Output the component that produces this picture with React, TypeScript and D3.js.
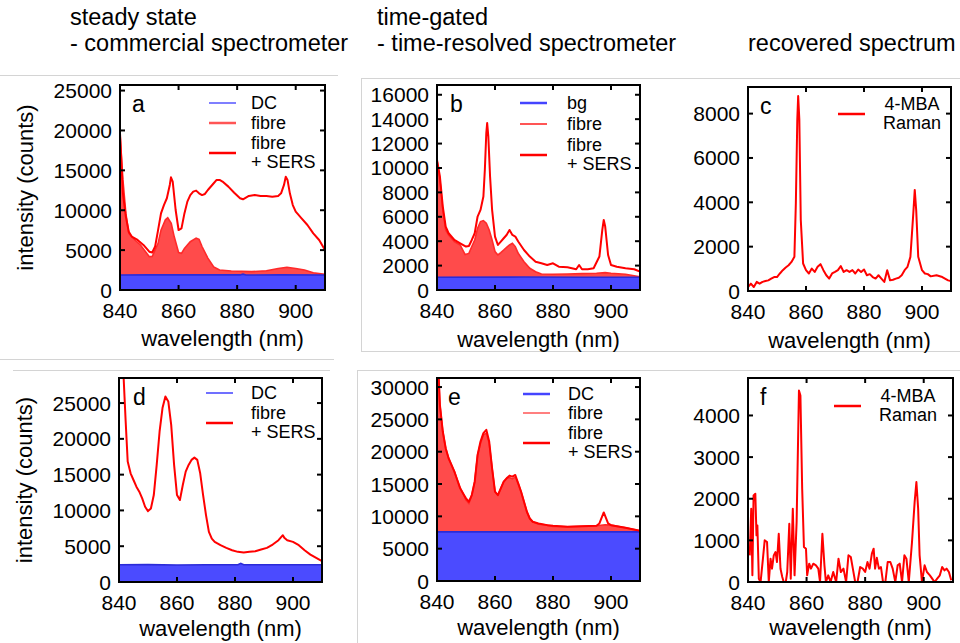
import React from 'react';
import * as d3 from 'd3';

type Pt = [number, number];

// ---------- data (wavelength nm, counts) ----------
const xTicks = [840, 860, 880, 900];

// a : steady state, commercial spectrometer
const aDC: Pt[] = [[840, 1880], [850, 1900], [860, 1890], [870, 1900], [881, 1890], [882, 1990], [883, 1880], [895, 1900], [910, 1880]];
const aFibre: Pt[] = [[840, 19650], [841, 13800], [842, 9600], [843, 7100], [845, 6300], [847, 5650], [850, 4180], [851, 4200], [853, 5850], [854, 7500], [855.5, 8800], [856.3, 9050], [857.5, 8350], [858.5, 6700], [860, 4700], [861, 4600], [862, 5200], [864, 6050], [866, 6500], [867, 6350], [868, 5450], [870, 4000], [872, 2900], [874, 2500], [878, 2380], [885, 2300], [890, 2420], [894, 2700], [897, 2850], [900, 2700], [903, 2500], [906, 2170], [910, 1960]];
const aSers: Pt[] = [[840, 19650], [840.5, 15900], [841, 12100], [842, 9200], [843, 7300], [844, 6700], [846, 6270], [848, 5650], [850, 4800], [851, 4700], [852, 5450], [853, 7500], [854, 9600], [855, 10650], [856, 11500], [857, 13170], [857.4, 14130], [858, 13590], [859, 10030], [860, 7520], [861, 7730], [862, 9600], [863, 11080], [864, 11900], [865, 12330], [866, 12460], [867, 12120], [868, 11900], [869, 12040], [870, 12540], [872, 13380], [873, 13800], [874, 13800], [875, 13590], [877, 12960], [879, 12200], [881, 11500], [882, 11370], [884, 11790], [886, 11900], [888, 11790], [890, 11790], [892, 11700], [894, 11790], [895, 12120], [896, 13170], [896.6, 14210], [897.2, 13800], [898, 12120], [899, 10650], [900, 9820], [902, 8990], [904, 8150], [906, 7100], [908, 6270], [910, 5020]];

// b : time-gated, time-resolved spectrometer
const bBg: Pt[] = [[840, 1050], [870, 1060], [890, 1050], [910, 1050]];
const bFibre: Pt[] = [[840, 10670], [841, 9030], [842, 6560], [843, 4920], [844, 4510], [846, 3970], [848, 3690], [849.7, 2900], [851, 3000], [852, 3560], [853, 4100], [854, 5060], [855, 5610], [856, 5690], [857, 5470], [858, 4920], [859, 4100], [860, 3150], [861, 2870], [862, 3060], [863, 3280], [864, 3500], [865, 3690], [866, 3830], [867, 3560], [868, 3010], [870, 2320], [872, 1780], [874, 1500], [876, 1310], [880, 1290], [885, 1310], [890, 1340], [895, 1370], [898, 1420], [900, 1370], [905, 1290], [910, 1090]];
const bSers: Pt[] = [[840, 10670], [841, 9300], [842, 6840], [843, 5200], [844, 4650], [846, 4100], [848, 3830], [850, 3560], [851, 3610], [852, 4100], [853, 4650], [854, 6020], [855, 6560], [856, 7660], [856.5, 9850], [857, 12860], [857.3, 13680], [857.7, 12580], [858.3, 9300], [859, 6560], [860, 4380], [861, 3690], [862, 3970], [863, 4240], [864, 4510], [865, 4920], [866, 4510], [867, 4380], [868, 3970], [870, 3280], [872, 2740], [874, 2320], [876, 2190], [878, 2050], [880, 2190], [882, 1910], [885, 1860], [888, 1700], [889, 2050], [890, 1700], [892, 1700], [894, 1780], [896, 2740], [897, 4920], [897.5, 5740], [898, 5200], [899, 2870], [900, 2050], [902, 1910], [905, 1780], [908, 1700], [910, 1500]];

// c : recovered spectrum (time-gated)
const cRaman: Pt[] = [[840, 180], [841, 330], [842, 180], [843, 410], [844, 330], [845, 410], [846, 450], [847, 480], [848, 560], [849, 630], [850, 630], [851, 790], [852, 940], [853, 1060], [854, 1160], [855, 1310], [856, 1540], [856.5, 3960], [857, 7730], [857.3, 8790], [857.7, 7730], [858.2, 3200], [859, 1240], [860, 940], [861, 790], [862, 1010], [863, 860], [864, 1090], [865, 1210], [866, 940], [867, 710], [868, 560], [869, 790], [870, 860], [871, 940], [872, 1120], [873, 860], [874, 940], [875, 860], [876, 940], [877, 790], [878, 970], [879, 860], [880, 970], [881, 710], [882, 760], [883, 630], [884, 560], [885, 710], [886, 560], [887, 410], [888, 940], [889, 480], [890, 510], [891, 560], [892, 600], [893, 710], [894, 940], [895, 1090], [896, 1540], [897, 3500], [897.5, 4560], [898, 3650], [898.7, 1540], [900, 940], [901, 790], [902, 760], [903, 660], [905, 710], [907, 630], [909, 480], [910, 450]];

// d : steady state, second fibre
const dDC: Pt[] = [[840, 2400], [850, 2430], [860, 2380], [870, 2420], [881, 2400], [882, 2600], [883, 2400], [895, 2420], [910, 2400]];
const dSers: Pt[] = [[840, 40000], [841.6, 28500], [842.3, 22430], [843, 16820], [844, 15190], [845, 14250], [846, 13320], [847, 12620], [848, 11680], [849, 10510], [850, 9900], [851, 10280], [852, 12150], [853, 16360], [854, 21030], [855, 24300], [856, 25930], [857, 25230], [858, 21960], [859, 16360], [860, 12150], [861, 11450], [862, 13550], [863, 15420], [864, 16360], [865, 17060], [866, 17380], [867, 17060], [868, 15190], [869, 12150], [870, 9350], [871, 7010], [872, 6070], [873, 5610], [875, 5140], [877, 4770], [879, 4440], [881, 4210], [883, 4110], [885, 4210], [887, 4300], [889, 4530], [891, 4770], [893, 5230], [895, 5840], [896.5, 6540], [897, 6170], [898, 5840], [900, 5610], [902, 5140], [904, 4440], [906, 3830], [908, 3360], [910, 2900]];

// e : time-gated, second fibre
const eDC: Pt[] = [[840, 7600], [910, 7600]];
const eFibre: Pt[] = [[840, 36000], [840.6, 31400], [841, 27260], [842, 23120], [843, 20540], [844, 18990], [845, 17950], [846, 16920], [847, 15620], [848, 14330], [849, 13550], [850, 12500], [851, 12000], [852, 13290], [853, 15360], [854, 19500], [855, 21300], [856, 22600], [857, 22870], [858, 21300], [859, 17430], [860, 13810], [861, 13290], [862, 14330], [863, 15360], [864, 15880], [865, 16000], [866, 15800], [867, 16100], [868, 15100], [869, 13810], [870, 12260], [871, 10710], [872, 9670], [873, 9160], [875, 8800], [878, 8640], [880, 8450], [885, 8380], [890, 8480], [895, 8540], [898, 8700], [900, 8640], [905, 8230], [910, 7760]];
const eSers: Pt[] = [[840, 36000], [840.6, 31400], [841, 27260], [842, 23120], [843, 20540], [844, 18990], [845, 17950], [846, 16920], [847, 15620], [848, 14330], [849, 13550], [850, 12780], [851, 12260], [852, 13290], [853, 15360], [854, 19500], [855, 21570], [856, 22870], [857, 23380], [858, 21570], [859, 17430], [860, 13810], [861, 13290], [862, 14330], [863, 15360], [864, 15880], [865, 16300], [866, 16140], [867, 16400], [868, 15100], [869, 13810], [870, 12260], [871, 10710], [872, 9670], [873, 9160], [875, 8900], [878, 8640], [880, 8540], [885, 8380], [890, 8480], [895, 8540], [896, 8900], [897.5, 10600], [899, 8900], [900, 8640], [905, 8230], [910, 7760]];

// f : recovered spectrum (second fibre)
const fRaman: Pt[] = [[840.6, 640], [841.1, 1760], [841.5, 160], [841.9, 2080], [842.5, 2120], [842.9, 1120], [843.2, 1360], [843.7, 80], [844.3, 0], [845.1, 560], [845.7, 1000], [846.5, 960], [847.1, 0], [847.7, 560], [848.2, 320], [848.8, 640], [849.4, 720], [849.9, 480], [850.5, 1160], [851.1, 320], [851.7, 120], [852.2, 0], [852.9, 0], [853.4, 240], [854.1, 1400], [854.6, 80], [855.3, 1760], [855.9, 160], [856.6, 1440], [857.4, 4600], [857.9, 4480], [858.5, 2240], [859.1, 840], [859.8, 800], [860.2, 160], [860.9, 440], [861.5, 320], [862.3, 440], [863.2, 400], [864.0, 320], [864.6, 0], [865.4, 1160], [866.1, 400], [866.6, 0], [867.4, 160], [868.2, 0], [869.1, 240], [870.1, 0], [870.9, 560], [871.7, 240], [872.6, 320], [873.5, 0], [874.3, 640], [875.1, 600], [875.8, 320], [876.6, 0], [877.4, 0], [878.3, 360], [879.2, 320], [880.0, 240], [880.8, 480], [881.5, 320], [882.3, 680], [882.9, 800], [883.4, 320], [884.0, 580], [884.7, 320], [885.4, 360], [886.1, 0], [886.9, 0], [887.7, 480], [888.6, 480], [889.4, 320], [890.3, 0], [891.1, 400], [891.8, 440], [892.6, 0], [893.4, 640], [894.1, 560], [894.9, 0], [896.0, 960], [896.9, 1920], [897.5, 2400], [898.1, 1760], [898.6, 640], [899.4, 0], [900.3, 400], [901.1, 240], [902.1, 160], [902.9, 80], [903.7, 0], [904.6, 80], [905.5, 160], [906.3, 360], [907.1, 280], [907.8, 320], [908.6, 240], [909.4, 40]];

// ---------- styles ----------
const FONT = '"Liberation Sans", Arial, sans-serif';
const RED = '#ff0000';
const FILL_RED = '#ff4b4b';
const FILL_BLUE = '#4b4bff';
const LINE_BLUE = '#2b2bd8';

type LegendItem = { label: string[]; color: string; width: number; dy: number };

type PanelProps = {
  left: number; top: number; w: number; h: number;
  yMax: number; yTicks: number[];
  letter: string; letterDx: number;
  fill?: Pt[]; base?: Pt[]; lines: Pt[][]; lineWidth?: number;
  legend: LegendItem[]; legX: number; legTextX: number; legAnchor?: string;
  yLabel?: boolean; xLabelDy: number; id: string;
};

function Panel(p: PanelProps) {
  const x = d3.scaleLinear().domain([840, 910]).range([p.left, p.left + p.w]);
  const y = d3.scaleLinear().domain([0, p.yMax]).range([p.top + p.h, p.top]);
  const line = d3.line<Pt>().x(d => x(d[0])).y(d => y(d[1]));
  const area = d3.area<Pt>().x(d => x(d[0])).y0(y(0)).y1(d => y(d[1]));
  const bottom = p.top + p.h;
  const right = p.left + p.w;
  const tl = 5;
  return (
    <g>
      <clipPath id={p.id}><rect x={p.left} y={p.top} width={p.w} height={p.h} /></clipPath>
      <g clipPath={`url(#${p.id})`}>
        {p.fill && <path d={area(p.fill) ?? ''} fill={FILL_RED} />}
        {p.fill && <path d={line(p.fill) ?? ''} fill="none" stroke="#ff2a2a" strokeWidth={1.6} />}
        {p.base && <path d={area(p.base) ?? ''} fill={FILL_BLUE} />}
        {p.base && <path d={line(p.base) ?? ''} fill="none" stroke={LINE_BLUE} strokeWidth={1.6} />}
        {p.lines.map((l, i) => (
          <path key={i} d={line(l) ?? ''} fill="none" stroke={RED} strokeWidth={p.lineWidth ?? 2} strokeLinejoin="round" />
        ))}
      </g>
      {/* ticks on all four sides, pointing inward */}
      {xTicks.map(t => (
        <g key={'x' + t}>
          <line x1={x(t)} x2={x(t)} y1={bottom} y2={bottom - tl} stroke="#000" strokeWidth={2} />
          <line x1={x(t)} x2={x(t)} y1={p.top} y2={p.top + tl} stroke="#000" strokeWidth={2} />
          <text x={x(t)} y={bottom + 28} textAnchor="middle" fontSize={21} fontFamily={FONT}>{t}</text>
        </g>
      ))}
      {p.yTicks.map(t => (
        <g key={'y' + t}>
          <line x1={p.left} x2={p.left + tl} y1={y(t)} y2={y(t)} stroke="#000" strokeWidth={2} />
          <line x1={right} x2={right - tl} y1={y(t)} y2={y(t)} stroke="#000" strokeWidth={2} />
          <text x={p.left - 8} y={y(t) + 7.5} textAnchor="end" fontSize={21} fontFamily={FONT}>{t}</text>
        </g>
      ))}
      <rect x={p.left} y={p.top} width={p.w} height={p.h} fill="none" stroke="#000" strokeWidth={2} />
      <text x={p.left + p.letterDx} y={p.top + 27} fontSize={23} fontFamily={FONT}>{p.letter}</text>
      {p.legend.map((it, i) => (
        <g key={i}>
          <line x1={p.legX} x2={p.legX + 27} y1={p.top + it.dy} y2={p.top + it.dy} stroke={it.color} strokeWidth={it.width} />
          {it.label.map((s, j) => (
            <text key={j} x={p.legTextX} y={p.top + it.dy + 5.5 - (it.label.length - 1) * 9.5 + j * 19}
              fontSize={18} fontFamily={FONT} textAnchor={p.legAnchor ?? 'start'}>{s}</text>
          ))}
        </g>
      ))}
      <text x={p.left + p.w / 2} y={bottom + p.xLabelDy} textAnchor="middle" fontSize={22} fontFamily={FONT}>wavelength (nm)</text>
      {p.yLabel && (
        <text transform={`translate(${p.left - 87},${p.top + p.h / 2}) rotate(-90)`} textAnchor="middle" fontSize={22} fontFamily={FONT}>intensity (counts)</text>
      )}
    </g>
  );
}

export default function App() {
  const gray = '#d4d4d4';
  return (
    <svg width={960} height={643} style={{ position: 'absolute', left: 0, top: 0, background: '#fff' }}>
      {/* panel borders of the source images */}
      <line x1={0} x2={338} y1={75.5} y2={75.5} stroke={gray} />
      <line x1={0} x2={334} y1={359.5} y2={359.5} stroke={gray} />
      <line x1={13} x2={330} y1={370.5} y2={370.5} stroke={gray} />
      <rect x={361.5} y={78.5} width={600} height={273} fill="none" stroke={gray} />
      <line x1={357.5} x2={357.5} y1={370} y2={643} stroke={gray} />
      <line x1={357.5} x2={960} y1={370.5} y2={370.5} stroke={gray} />

      <g fontFamily={FONT} fontSize={23.5}>
        <text x={70} y={25}>steady state</text>
        <text x={70} y={51}>- commercial spectrometer</text>
        <text x={377} y={25}>time-gated</text>
        <text x={377} y={51}>- time-resolved spectrometer</text>
        <text x={748} y={51}>recovered spectrum</text>
      </g>

      <Panel id="ca" left={120} top={85} w={205} h={205} yMax={25700} yTicks={[0, 5000, 10000, 15000, 20000, 25000]}
        letter="a" letterDx={12} fill={aFibre} base={aDC} lines={[aSers]}
        legend={[
          { label: ['DC'], color: '#5555ff', width: 1.5, dy: 18 },
          { label: ['fibre'], color: '#ff5555', width: 2.5, dy: 38 },
          { label: ['fibre', '+ SERS'], color: RED, width: 2.5, dy: 68 },
        ]} legX={209} legTextX={251} yLabel xLabelDy={56} />

      <Panel id="cb" left={437} top={85} w={203} h={205} yMax={16800} yTicks={[0, 2000, 4000, 6000, 8000, 10000, 12000, 14000, 16000]}
        letter="b" letterDx={13} fill={bFibre} base={bBg} lines={[bSers]}
        legend={[
          { label: ['bg'], color: '#4444ff', width: 2.5, dy: 18 },
          { label: ['fibre'], color: '#ff5555', width: 2, dy: 39 },
          { label: ['fibre', '+ SERS'], color: RED, width: 2.5, dy: 70 },
        ]} legX={520} legTextX={567} xLabelDy={57} />

      <Panel id="cc" left={748} top={87} w={203} h={204} yMax={9200} yTicks={[0, 2000, 4000, 6000, 8000]}
        letter="c" letterDx={12} lines={[cRaman]}
        legend={[{ label: ['4-MBA', 'Raman'], color: RED, width: 2.5, dy: 27 }]}
        legX={838} legTextX={912} legAnchor="middle" xLabelDy={57} />

      <Panel id="cd" left={119} top={378} w={203} h={204} yMax={28500} yTicks={[0, 5000, 10000, 15000, 20000, 25000]}
        letter="d" letterDx={14} base={dDC} lines={[dSers]}
        legend={[
          { label: ['DC'], color: '#4040ff', width: 1.5, dy: 15 },
          { label: ['fibre', '+ SERS'], color: RED, width: 2.5, dy: 45 },
        ]} legX={206} legTextX={251} yLabel xLabelDy={54} />

      <Panel id="ce" left={437} top={378} w={203} h={203} yMax={31400} yTicks={[0, 5000, 10000, 15000, 20000, 25000, 30000]}
        letter="e" letterDx={11} fill={eFibre} base={eDC} lines={[eSers]}
        legend={[
          { label: ['DC'], color: '#4444ff', width: 2.5, dy: 16 },
          { label: ['fibre'], color: '#ff5555', width: 1.5, dy: 35 },
          { label: ['fibre', '+ SERS'], color: RED, width: 2.5, dy: 65 },
        ]} legX={523} legTextX={568} xLabelDy={54} />

      <Panel id="cf" left={748} top={378} w={205} h={204} yMax={4900} yTicks={[0, 1000, 2000, 3000, 4000]}
        letter="f" letterDx={12} lines={[fRaman]}
        legend={[{ label: ['4-MBA', 'Raman'], color: RED, width: 2.5, dy: 28 }]}
        legX={834} legTextX={908} legAnchor="middle" xLabelDy={53} />
    </svg>
  );
}
